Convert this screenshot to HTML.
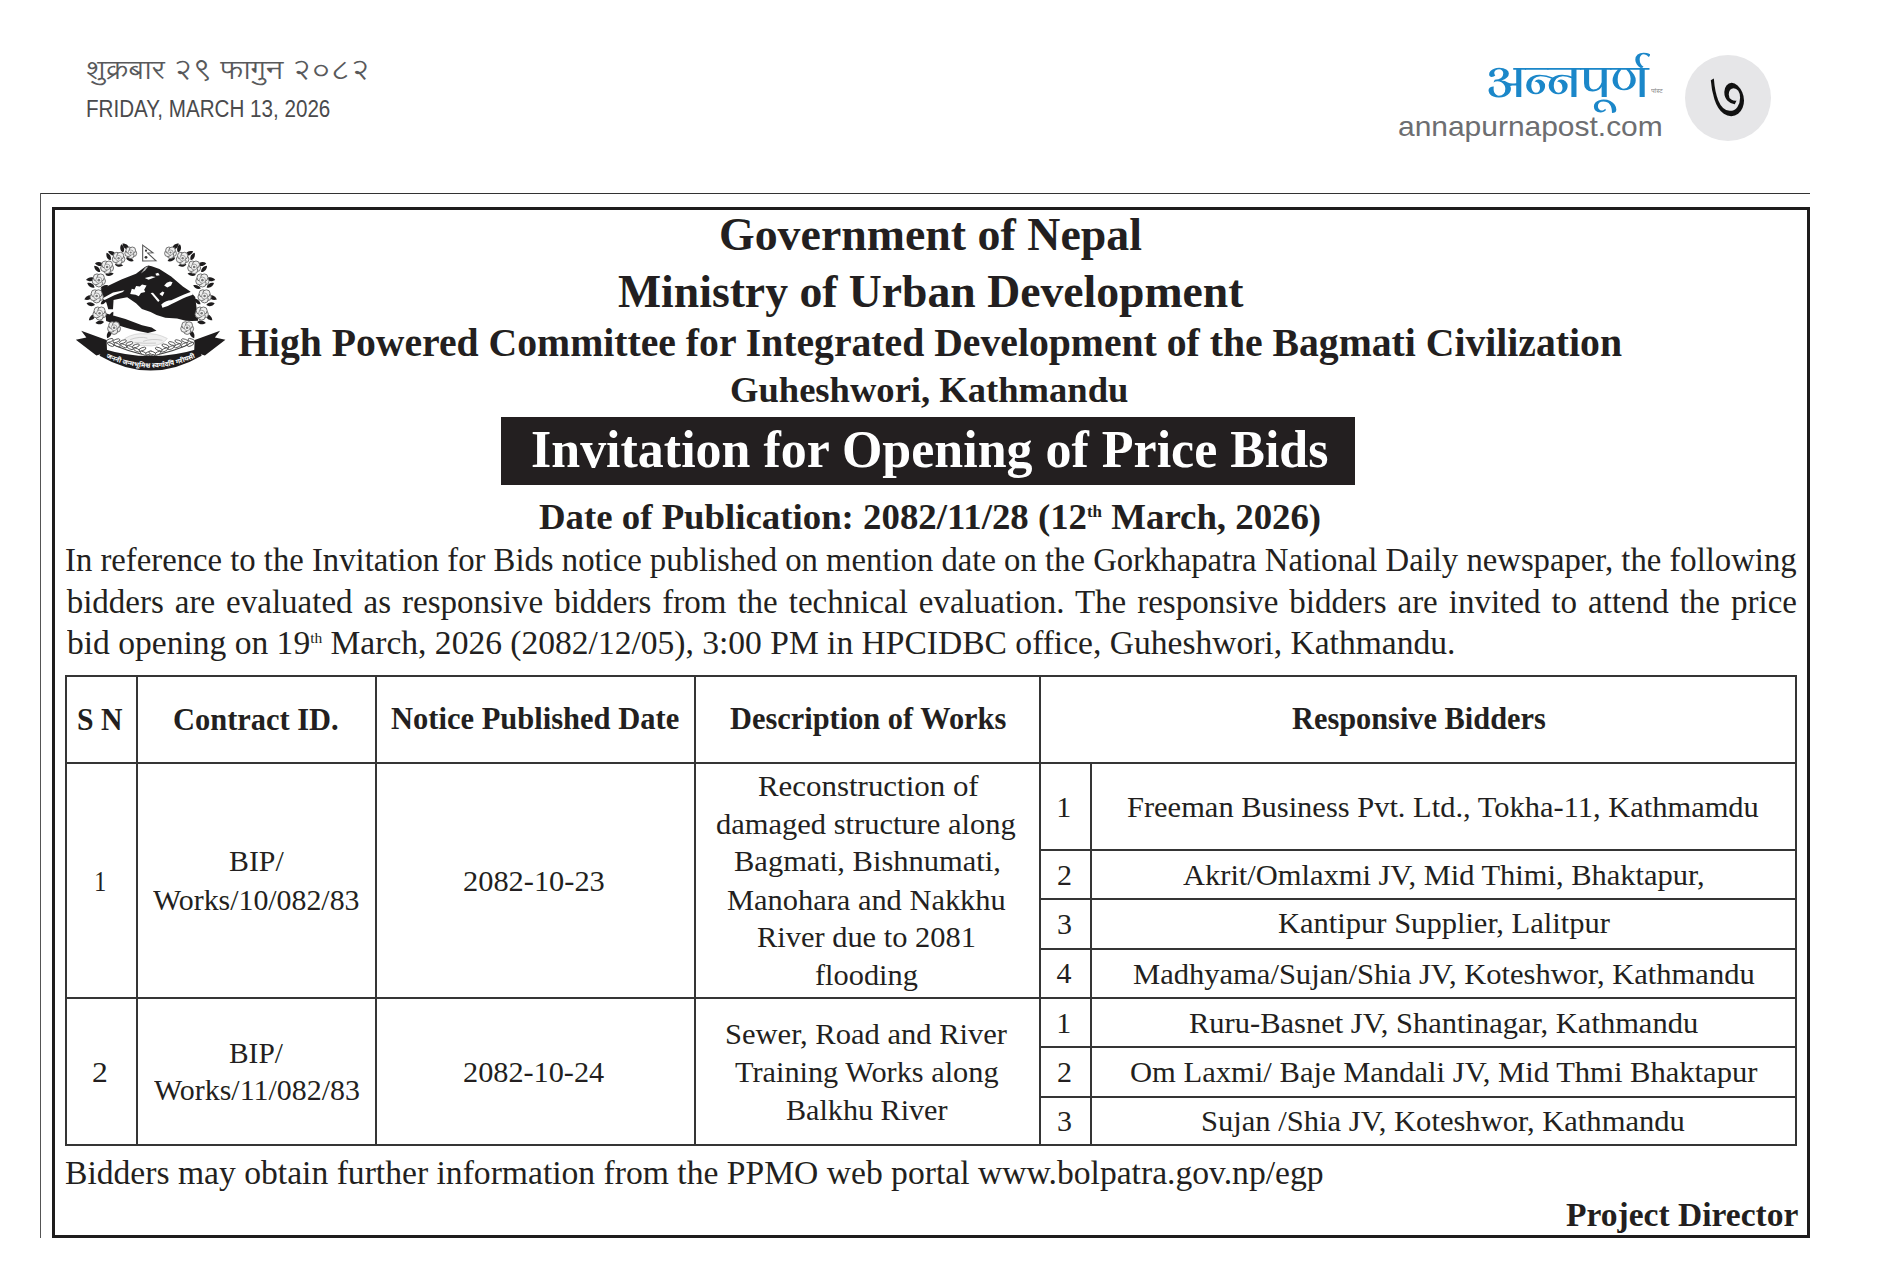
<!DOCTYPE html>
<html><head><meta charset="utf-8"><title>Invitation for Opening of Price Bids</title>
<style>
html,body{margin:0;padding:0;background:#fff}
body{width:1877px;height:1284px;position:relative;overflow:hidden}
.ln{position:absolute;box-sizing:border-box}
.t{position:absolute;white-space:nowrap;transform-origin:0 0}
sup{font-size:0.46em;vertical-align:0;position:relative;top:-0.7em;line-height:0}
</style></head><body>
<div class="ln" style="left:40px;top:193px;width:1770px;height:1px;background:#333"></div>
<div class="ln" style="left:40px;top:193px;width:1px;height:1045px;background:#555"></div>
<div class="ln" style="left:52px;top:207px;width:1758px;height:1031px;border:3px solid #1e1c1d;background:transparent"></div>
<div class="ln" style="left:501px;top:417px;width:854px;height:68px;background:#231f20"></div>
<div class="ln" style="left:1685px;top:55px;width:86px;height:86px;border-radius:50%;background:#e6e6e8"></div>
<div class="ln" style="left:65px;top:675px;width:1732px;height:2px;background:#353535"></div>
<div class="ln" style="left:65px;top:762px;width:1732px;height:2px;background:#353535"></div>
<div class="ln" style="left:65px;top:997px;width:1732px;height:2px;background:#353535"></div>
<div class="ln" style="left:65px;top:1144px;width:1732px;height:2px;background:#353535"></div>
<div class="ln" style="left:1039px;top:849px;width:758px;height:2px;background:#353535"></div>
<div class="ln" style="left:1039px;top:898px;width:758px;height:2px;background:#353535"></div>
<div class="ln" style="left:1039px;top:948px;width:758px;height:2px;background:#353535"></div>
<div class="ln" style="left:1039px;top:1046px;width:758px;height:2px;background:#353535"></div>
<div class="ln" style="left:1039px;top:1096px;width:758px;height:2px;background:#353535"></div>
<div class="ln" style="left:65px;top:675px;width:2px;height:471px;background:#353535"></div>
<div class="ln" style="left:136px;top:675px;width:2px;height:471px;background:#353535"></div>
<div class="ln" style="left:375px;top:675px;width:2px;height:471px;background:#353535"></div>
<div class="ln" style="left:694px;top:675px;width:2px;height:471px;background:#353535"></div>
<div class="ln" style="left:1039px;top:675px;width:2px;height:471px;background:#353535"></div>
<div class="ln" style="left:1795px;top:675px;width:2px;height:471px;background:#353535"></div>
<div class="ln" style="left:1090px;top:762px;width:2px;height:384px;background:#353535"></div>
<svg style="position:absolute;left:70px;top:238px;width:162px;height:138px" viewBox="0 0 1507 1284"><path transform="translate(552,106) rotate(-139)" d="M0,0 C26,-28 64,-21 85,0 C64,21 26,28 0,0 Z" fill="#1e1c1d"/><path transform="translate(493,136) rotate(-101)" d="M0,0 C24,-27 60,-20 80,0 C60,20 24,27 0,0 Z" fill="#1e1c1d"/><path transform="translate(521,183) rotate(24)" d="M0,0 C23,-24 58,-18 78,0 C58,18 23,24 0,0 Z" fill="#1e1c1d"/><path transform="translate(431,161) rotate(-154)" d="M0,0 C26,-28 64,-21 85,0 C64,21 26,28 0,0 Z" fill="#1e1c1d"/><path transform="translate(377,208) rotate(-117)" d="M0,0 C24,-27 60,-20 80,0 C60,20 24,27 0,0 Z" fill="#1e1c1d"/><path transform="translate(417,246) rotate(8)" d="M0,0 C23,-24 58,-18 78,0 C58,18 23,24 0,0 Z" fill="#1e1c1d"/><path transform="translate(316,250) rotate(-169)" d="M0,0 C26,-28 64,-21 85,0 C64,21 26,28 0,0 Z" fill="#1e1c1d"/><path transform="translate(280,317) rotate(-133)" d="M0,0 C24,-27 60,-20 80,0 C60,20 24,27 0,0 Z" fill="#1e1c1d"/><path transform="translate(329,342) rotate(-8)" d="M0,0 C23,-24 58,-18 78,0 C58,18 23,24 0,0 Z" fill="#1e1c1d"/><path transform="translate(234,380) rotate(-186)" d="M0,0 C26,-28 64,-21 85,0 C64,21 26,28 0,0 Z" fill="#1e1c1d"/><path transform="translate(229,460) rotate(-149)" d="M0,0 C24,-27 60,-20 80,0 C60,20 24,27 0,0 Z" fill="#1e1c1d"/><path transform="translate(283,471) rotate(-24)" d="M0,0 C23,-24 58,-18 78,0 C58,18 23,24 0,0 Z" fill="#1e1c1d"/><path transform="translate(212,539) rotate(-203)" d="M0,0 C26,-28 64,-21 85,0 C64,21 26,28 0,0 Z" fill="#1e1c1d"/><path transform="translate(232,624) rotate(193)" d="M0,0 C24,-27 60,-20 80,0 C60,20 24,27 0,0 Z" fill="#1e1c1d"/><path transform="translate(286,617) rotate(318)" d="M0,0 C23,-24 58,-18 78,0 C58,18 23,24 0,0 Z" fill="#1e1c1d"/><path transform="translate(240,710) rotate(139)" d="M0,0 C26,-28 64,-21 85,0 C64,21 26,28 0,0 Z" fill="#1e1c1d"/><path transform="translate(316,781) rotate(173)" d="M0,0 C24,-27 60,-20 80,0 C60,20 24,27 0,0 Z" fill="#1e1c1d"/><path transform="translate(365,756) rotate(298)" d="M0,0 C23,-24 58,-18 78,0 C58,18 23,24 0,0 Z" fill="#1e1c1d"/><path transform="translate(383,857) rotate(116)" d="M0,0 C26,-28 64,-21 85,0 C64,21 26,28 0,0 Z" fill="#1e1c1d"/><path transform="translate(948,106) rotate(-41)" d="M0,0 C26,-28 64,-21 85,0 C64,21 26,28 0,0 Z" fill="#1e1c1d"/><path transform="translate(1007,136) rotate(-79)" d="M0,0 C24,-27 60,-20 80,0 C60,20 24,27 0,0 Z" fill="#1e1c1d"/><path transform="translate(979,183) rotate(156)" d="M0,0 C23,-24 58,-18 78,0 C58,18 23,24 0,0 Z" fill="#1e1c1d"/><path transform="translate(1069,161) rotate(-26)" d="M0,0 C26,-28 64,-21 85,0 C64,21 26,28 0,0 Z" fill="#1e1c1d"/><path transform="translate(1123,208) rotate(-63)" d="M0,0 C24,-27 60,-20 80,0 C60,20 24,27 0,0 Z" fill="#1e1c1d"/><path transform="translate(1083,246) rotate(172)" d="M0,0 C23,-24 58,-18 78,0 C58,18 23,24 0,0 Z" fill="#1e1c1d"/><path transform="translate(1184,250) rotate(-11)" d="M0,0 C26,-28 64,-21 85,0 C64,21 26,28 0,0 Z" fill="#1e1c1d"/><path transform="translate(1220,317) rotate(-47)" d="M0,0 C24,-27 60,-20 80,0 C60,20 24,27 0,0 Z" fill="#1e1c1d"/><path transform="translate(1171,342) rotate(188)" d="M0,0 C23,-24 58,-18 78,0 C58,18 23,24 0,0 Z" fill="#1e1c1d"/><path transform="translate(1266,380) rotate(6)" d="M0,0 C26,-28 64,-21 85,0 C64,21 26,28 0,0 Z" fill="#1e1c1d"/><path transform="translate(1271,460) rotate(-31)" d="M0,0 C24,-27 60,-20 80,0 C60,20 24,27 0,0 Z" fill="#1e1c1d"/><path transform="translate(1217,471) rotate(204)" d="M0,0 C23,-24 58,-18 78,0 C58,18 23,24 0,0 Z" fill="#1e1c1d"/><path transform="translate(1288,539) rotate(23)" d="M0,0 C26,-28 64,-21 85,0 C64,21 26,28 0,0 Z" fill="#1e1c1d"/><path transform="translate(1268,624) rotate(-13)" d="M0,0 C24,-27 60,-20 80,0 C60,20 24,27 0,0 Z" fill="#1e1c1d"/><path transform="translate(1214,617) rotate(222)" d="M0,0 C23,-24 58,-18 78,0 C58,18 23,24 0,0 Z" fill="#1e1c1d"/><path transform="translate(1260,710) rotate(41)" d="M0,0 C26,-28 64,-21 85,0 C64,21 26,28 0,0 Z" fill="#1e1c1d"/><path transform="translate(1184,781) rotate(7)" d="M0,0 C24,-27 60,-20 80,0 C60,20 24,27 0,0 Z" fill="#1e1c1d"/><path transform="translate(1135,756) rotate(242)" d="M0,0 C23,-24 58,-18 78,0 C58,18 23,24 0,0 Z" fill="#1e1c1d"/><path transform="translate(1117,857) rotate(64)" d="M0,0 C26,-28 64,-21 85,0 C64,21 26,28 0,0 Z" fill="#1e1c1d"/><path d="M287,479 L341,452 L478,387 L614,332 L700,268 L729,255 L760,262 L832,289 L941,359 L1050,452 L1116,496 L1165,550 L1192,770 L1132,772 L1077,770 L996,748 L887,743 L805,716 L750,688 L669,661 L614,607 L532,552 L470,562 L405,578 L400,662 L356,662 L338,600 L287,552 Z" fill="#1e1c1d"/><path d="M849,618 Q900,577 941,579 Q1000,552 1050,530 Q1100,507 1134,497 L1142,527 Q1080,547 1050,562 Q990,592 945,614 Q900,642 860,650 Z" fill="#fff"/><path d="M560,522 L575,472 L600,480 L615,447 L650,452 L670,432 L712,442 L690,482 L700,502 L660,512 L640,541 L610,527 Z" fill="#fff"/><path d="M876,442 L900,417 L930,405 L954,412 L940,442 L905,460 Z" fill="#fff"/><path d="M832,522 L860,498 L878,507 L860,541 Z" fill="#fff"/><path d="M750,512 L772,509 L834,582 L820,596 Z" fill="#fff"/><path d="M696,372 L760,356 L796,362 L730,389 Z" fill="#fff"/><path d="M794,332 L820,323 L834,347 L805,351 Z" fill="#fff"/><path d="M300,562 L400,507 L507,487 L492,502 L412,532 L322,577 Z" fill="#fff"/><path d="M700,275 L729,262 L700,300 L660,330 Z" fill="#bbb"/><path d="M330,700 Q500,742 670,812 L760,832 L805,862 L725,884 Q560,852 430,804 L336,772 Z" fill="#1e1c1d"/><path d="M510,935 Q600,880 700,892 Q800,880 905,935 Q860,995 760,1004 Q640,1008 530,978 Z" fill="#f0f0f0" stroke="#bdbdbd" stroke-width="5"/><path d="M560,945 Q650,912 720,932 M680,962 Q760,932 860,952 M600,972 Q700,984 800,978" fill="none" stroke="#aaa" stroke-width="5"/><g transform="translate(565,135)"><circle cx="25" cy="8" r="30" fill="#eeeeee" stroke="#5e5e5e" stroke-width="8"/><circle cx="0" cy="26" r="30" fill="#eeeeee" stroke="#5e5e5e" stroke-width="8"/><circle cx="-25" cy="8" r="30" fill="#eeeeee" stroke="#5e5e5e" stroke-width="8"/><circle cx="-15" cy="-21" r="30" fill="#eeeeee" stroke="#5e5e5e" stroke-width="8"/><circle cx="15" cy="-21" r="30" fill="#eeeeee" stroke="#5e5e5e" stroke-width="8"/><circle r="24" fill="#f3f3f3" stroke="#7a7a7a" stroke-width="6"/><circle r="10" fill="#777"/></g><g transform="translate(452,188)"><circle cx="27" cy="9" r="32" fill="#eeeeee" stroke="#5e5e5e" stroke-width="8"/><circle cx="0" cy="28" r="32" fill="#eeeeee" stroke="#5e5e5e" stroke-width="8"/><circle cx="-27" cy="9" r="32" fill="#eeeeee" stroke="#5e5e5e" stroke-width="8"/><circle cx="-16" cy="-23" r="32" fill="#eeeeee" stroke="#5e5e5e" stroke-width="8"/><circle cx="16" cy="-23" r="32" fill="#eeeeee" stroke="#5e5e5e" stroke-width="8"/><circle r="26" fill="#f3f3f3" stroke="#7a7a7a" stroke-width="6"/><circle r="11" fill="#777"/></g><g transform="translate(345,270)"><circle cx="27" cy="9" r="33" fill="#eeeeee" stroke="#5e5e5e" stroke-width="8"/><circle cx="0" cy="29" r="33" fill="#eeeeee" stroke="#5e5e5e" stroke-width="8"/><circle cx="-27" cy="9" r="33" fill="#eeeeee" stroke="#5e5e5e" stroke-width="8"/><circle cx="-17" cy="-23" r="33" fill="#eeeeee" stroke="#5e5e5e" stroke-width="8"/><circle cx="17" cy="-23" r="33" fill="#eeeeee" stroke="#5e5e5e" stroke-width="8"/><circle r="27" fill="#f3f3f3" stroke="#7a7a7a" stroke-width="6"/><circle r="12" fill="#777"/></g><g transform="translate(268,392)"><circle cx="28" cy="9" r="34" fill="#eeeeee" stroke="#5e5e5e" stroke-width="8"/><circle cx="0" cy="30" r="34" fill="#eeeeee" stroke="#5e5e5e" stroke-width="8"/><circle cx="-28" cy="9" r="34" fill="#eeeeee" stroke="#5e5e5e" stroke-width="8"/><circle cx="-17" cy="-24" r="34" fill="#eeeeee" stroke="#5e5e5e" stroke-width="8"/><circle cx="17" cy="-24" r="34" fill="#eeeeee" stroke="#5e5e5e" stroke-width="8"/><circle r="28" fill="#f3f3f3" stroke="#7a7a7a" stroke-width="6"/><circle r="12" fill="#777"/></g><g transform="translate(248,540)"><circle cx="28" cy="9" r="34" fill="#eeeeee" stroke="#5e5e5e" stroke-width="8"/><circle cx="0" cy="30" r="34" fill="#eeeeee" stroke="#5e5e5e" stroke-width="8"/><circle cx="-28" cy="9" r="34" fill="#eeeeee" stroke="#5e5e5e" stroke-width="8"/><circle cx="-17" cy="-24" r="34" fill="#eeeeee" stroke="#5e5e5e" stroke-width="8"/><circle cx="17" cy="-24" r="34" fill="#eeeeee" stroke="#5e5e5e" stroke-width="8"/><circle r="28" fill="#f3f3f3" stroke="#7a7a7a" stroke-width="6"/><circle r="12" fill="#777"/></g><g transform="translate(275,700)"><circle cx="28" cy="9" r="34" fill="#eeeeee" stroke="#5e5e5e" stroke-width="8"/><circle cx="0" cy="30" r="34" fill="#eeeeee" stroke="#5e5e5e" stroke-width="8"/><circle cx="-28" cy="9" r="34" fill="#eeeeee" stroke="#5e5e5e" stroke-width="8"/><circle cx="-17" cy="-24" r="34" fill="#eeeeee" stroke="#5e5e5e" stroke-width="8"/><circle cx="17" cy="-24" r="34" fill="#eeeeee" stroke="#5e5e5e" stroke-width="8"/><circle r="28" fill="#f3f3f3" stroke="#7a7a7a" stroke-width="6"/><circle r="12" fill="#777"/></g><g transform="translate(410,835)"><circle cx="27" cy="9" r="33" fill="#eeeeee" stroke="#5e5e5e" stroke-width="8"/><circle cx="0" cy="29" r="33" fill="#eeeeee" stroke="#5e5e5e" stroke-width="8"/><circle cx="-27" cy="9" r="33" fill="#eeeeee" stroke="#5e5e5e" stroke-width="8"/><circle cx="-17" cy="-23" r="33" fill="#eeeeee" stroke="#5e5e5e" stroke-width="8"/><circle cx="17" cy="-23" r="33" fill="#eeeeee" stroke="#5e5e5e" stroke-width="8"/><circle r="27" fill="#f3f3f3" stroke="#7a7a7a" stroke-width="6"/><circle r="12" fill="#777"/></g><g transform="translate(935,135)"><circle cx="25" cy="8" r="30" fill="#eeeeee" stroke="#5e5e5e" stroke-width="8"/><circle cx="0" cy="26" r="30" fill="#eeeeee" stroke="#5e5e5e" stroke-width="8"/><circle cx="-25" cy="8" r="30" fill="#eeeeee" stroke="#5e5e5e" stroke-width="8"/><circle cx="-15" cy="-21" r="30" fill="#eeeeee" stroke="#5e5e5e" stroke-width="8"/><circle cx="15" cy="-21" r="30" fill="#eeeeee" stroke="#5e5e5e" stroke-width="8"/><circle r="24" fill="#f3f3f3" stroke="#7a7a7a" stroke-width="6"/><circle r="10" fill="#777"/></g><g transform="translate(1048,188)"><circle cx="27" cy="9" r="32" fill="#eeeeee" stroke="#5e5e5e" stroke-width="8"/><circle cx="0" cy="28" r="32" fill="#eeeeee" stroke="#5e5e5e" stroke-width="8"/><circle cx="-27" cy="9" r="32" fill="#eeeeee" stroke="#5e5e5e" stroke-width="8"/><circle cx="-16" cy="-23" r="32" fill="#eeeeee" stroke="#5e5e5e" stroke-width="8"/><circle cx="16" cy="-23" r="32" fill="#eeeeee" stroke="#5e5e5e" stroke-width="8"/><circle r="26" fill="#f3f3f3" stroke="#7a7a7a" stroke-width="6"/><circle r="11" fill="#777"/></g><g transform="translate(1155,270)"><circle cx="27" cy="9" r="33" fill="#eeeeee" stroke="#5e5e5e" stroke-width="8"/><circle cx="0" cy="29" r="33" fill="#eeeeee" stroke="#5e5e5e" stroke-width="8"/><circle cx="-27" cy="9" r="33" fill="#eeeeee" stroke="#5e5e5e" stroke-width="8"/><circle cx="-17" cy="-23" r="33" fill="#eeeeee" stroke="#5e5e5e" stroke-width="8"/><circle cx="17" cy="-23" r="33" fill="#eeeeee" stroke="#5e5e5e" stroke-width="8"/><circle r="27" fill="#f3f3f3" stroke="#7a7a7a" stroke-width="6"/><circle r="12" fill="#777"/></g><g transform="translate(1232,392)"><circle cx="28" cy="9" r="34" fill="#eeeeee" stroke="#5e5e5e" stroke-width="8"/><circle cx="0" cy="30" r="34" fill="#eeeeee" stroke="#5e5e5e" stroke-width="8"/><circle cx="-28" cy="9" r="34" fill="#eeeeee" stroke="#5e5e5e" stroke-width="8"/><circle cx="-17" cy="-24" r="34" fill="#eeeeee" stroke="#5e5e5e" stroke-width="8"/><circle cx="17" cy="-24" r="34" fill="#eeeeee" stroke="#5e5e5e" stroke-width="8"/><circle r="28" fill="#f3f3f3" stroke="#7a7a7a" stroke-width="6"/><circle r="12" fill="#777"/></g><g transform="translate(1252,540)"><circle cx="28" cy="9" r="34" fill="#eeeeee" stroke="#5e5e5e" stroke-width="8"/><circle cx="0" cy="30" r="34" fill="#eeeeee" stroke="#5e5e5e" stroke-width="8"/><circle cx="-28" cy="9" r="34" fill="#eeeeee" stroke="#5e5e5e" stroke-width="8"/><circle cx="-17" cy="-24" r="34" fill="#eeeeee" stroke="#5e5e5e" stroke-width="8"/><circle cx="17" cy="-24" r="34" fill="#eeeeee" stroke="#5e5e5e" stroke-width="8"/><circle r="28" fill="#f3f3f3" stroke="#7a7a7a" stroke-width="6"/><circle r="12" fill="#777"/></g><g transform="translate(1225,700)"><circle cx="28" cy="9" r="34" fill="#eeeeee" stroke="#5e5e5e" stroke-width="8"/><circle cx="0" cy="30" r="34" fill="#eeeeee" stroke="#5e5e5e" stroke-width="8"/><circle cx="-28" cy="9" r="34" fill="#eeeeee" stroke="#5e5e5e" stroke-width="8"/><circle cx="-17" cy="-24" r="34" fill="#eeeeee" stroke="#5e5e5e" stroke-width="8"/><circle cx="17" cy="-24" r="34" fill="#eeeeee" stroke="#5e5e5e" stroke-width="8"/><circle r="28" fill="#f3f3f3" stroke="#7a7a7a" stroke-width="6"/><circle r="12" fill="#777"/></g><g transform="translate(1090,835)"><circle cx="27" cy="9" r="33" fill="#eeeeee" stroke="#5e5e5e" stroke-width="8"/><circle cx="0" cy="29" r="33" fill="#eeeeee" stroke="#5e5e5e" stroke-width="8"/><circle cx="-27" cy="9" r="33" fill="#eeeeee" stroke="#5e5e5e" stroke-width="8"/><circle cx="-17" cy="-23" r="33" fill="#eeeeee" stroke="#5e5e5e" stroke-width="8"/><circle cx="17" cy="-23" r="33" fill="#eeeeee" stroke="#5e5e5e" stroke-width="8"/><circle r="27" fill="#f3f3f3" stroke="#7a7a7a" stroke-width="6"/><circle r="12" fill="#777"/></g><path d="M360,975 Q540,1060 725,1092 M1140,975 Q960,1060 775,1092" fill="none" stroke="#444" stroke-width="10"/><ellipse cx="370" cy="953" rx="34" ry="14" transform="rotate(-20 370 953)" fill="#fff" stroke="#3a3a3a" stroke-width="7"/><ellipse cx="378" cy="991" rx="32" ry="13" transform="rotate(25 378 991)" fill="#fff" stroke="#3a3a3a" stroke-width="7"/><ellipse cx="1130" cy="953" rx="34" ry="14" transform="rotate(20 1130 953)" fill="#fff" stroke="#3a3a3a" stroke-width="7"/><ellipse cx="1122" cy="991" rx="32" ry="13" transform="rotate(-25 1122 991)" fill="#fff" stroke="#3a3a3a" stroke-width="7"/><ellipse cx="431" cy="956" rx="34" ry="14" transform="rotate(-20 431 956)" fill="#fff" stroke="#3a3a3a" stroke-width="7"/><ellipse cx="439" cy="994" rx="32" ry="13" transform="rotate(25 439 994)" fill="#fff" stroke="#3a3a3a" stroke-width="7"/><ellipse cx="1069" cy="956" rx="34" ry="14" transform="rotate(20 1069 956)" fill="#fff" stroke="#3a3a3a" stroke-width="7"/><ellipse cx="1061" cy="994" rx="32" ry="13" transform="rotate(-25 1061 994)" fill="#fff" stroke="#3a3a3a" stroke-width="7"/><ellipse cx="492" cy="965" rx="34" ry="14" transform="rotate(-20 492 965)" fill="#fff" stroke="#3a3a3a" stroke-width="7"/><ellipse cx="500" cy="1003" rx="32" ry="13" transform="rotate(25 500 1003)" fill="#fff" stroke="#3a3a3a" stroke-width="7"/><ellipse cx="1008" cy="965" rx="34" ry="14" transform="rotate(20 1008 965)" fill="#fff" stroke="#3a3a3a" stroke-width="7"/><ellipse cx="1000" cy="1003" rx="32" ry="13" transform="rotate(-25 1000 1003)" fill="#fff" stroke="#3a3a3a" stroke-width="7"/><ellipse cx="552" cy="982" rx="34" ry="14" transform="rotate(-20 552 982)" fill="#fff" stroke="#3a3a3a" stroke-width="7"/><ellipse cx="560" cy="1020" rx="32" ry="13" transform="rotate(25 560 1020)" fill="#fff" stroke="#3a3a3a" stroke-width="7"/><ellipse cx="948" cy="982" rx="34" ry="14" transform="rotate(20 948 982)" fill="#fff" stroke="#3a3a3a" stroke-width="7"/><ellipse cx="940" cy="1020" rx="32" ry="13" transform="rotate(-25 940 1020)" fill="#fff" stroke="#3a3a3a" stroke-width="7"/><ellipse cx="613" cy="1004" rx="34" ry="14" transform="rotate(-20 613 1004)" fill="#fff" stroke="#3a3a3a" stroke-width="7"/><ellipse cx="621" cy="1042" rx="32" ry="13" transform="rotate(25 621 1042)" fill="#fff" stroke="#3a3a3a" stroke-width="7"/><ellipse cx="887" cy="1004" rx="34" ry="14" transform="rotate(20 887 1004)" fill="#fff" stroke="#3a3a3a" stroke-width="7"/><ellipse cx="879" cy="1042" rx="32" ry="13" transform="rotate(-25 879 1042)" fill="#fff" stroke="#3a3a3a" stroke-width="7"/><ellipse cx="674" cy="1034" rx="34" ry="14" transform="rotate(-20 674 1034)" fill="#fff" stroke="#3a3a3a" stroke-width="7"/><ellipse cx="682" cy="1072" rx="32" ry="13" transform="rotate(25 682 1072)" fill="#fff" stroke="#3a3a3a" stroke-width="7"/><ellipse cx="826" cy="1034" rx="34" ry="14" transform="rotate(20 826 1034)" fill="#fff" stroke="#3a3a3a" stroke-width="7"/><ellipse cx="818" cy="1072" rx="32" ry="13" transform="rotate(-25 818 1072)" fill="#fff" stroke="#3a3a3a" stroke-width="7"/><ellipse cx="735" cy="1070" rx="34" ry="14" transform="rotate(-20 735 1070)" fill="#fff" stroke="#3a3a3a" stroke-width="7"/><ellipse cx="743" cy="1108" rx="32" ry="13" transform="rotate(25 743 1108)" fill="#fff" stroke="#3a3a3a" stroke-width="7"/><ellipse cx="765" cy="1070" rx="34" ry="14" transform="rotate(20 765 1070)" fill="#fff" stroke="#3a3a3a" stroke-width="7"/><ellipse cx="757" cy="1108" rx="32" ry="13" transform="rotate(-25 757 1108)" fill="#fff" stroke="#3a3a3a" stroke-width="7"/><path d="M104,862 L340,950 L345,1062 L245,1094 L54,946 L152,926 Z" fill="#1e1c1d"/><path d="M1396,862 L1160,950 L1155,1062 L1255,1094 L1446,946 L1348,926 Z" fill="#1e1c1d"/><path d="M305,1030 Q750,1168 1195,1030 L1225,1095 Q750,1372 275,1095 Z" fill="#1e1c1d"/><path id="rbp" d="M300,1095 Q750,1318 1200,1095" fill="none"/><text font-family="'Liberation Sans', 'Noto Sans Devanagari', sans-serif" font-size="62" font-weight="700" fill="#fff"><textPath href="#rbp" startOffset="50%" text-anchor="middle">जननी जन्मभूमिश्च स्वर्गादपि गरीयसी</textPath></text><path d="M676,66 L772,138 L722,140 L800,212 L676,214 Z" fill="#fff" stroke="#555" stroke-width="10" stroke-linejoin="miter"/><circle cx="707" cy="118" r="10" fill="#333"/><circle cx="707" cy="180" r="13" fill="#333"/></svg>
<div class="t" style="left:86.04px;top:57.42px;font-family:'Liberation Sans', 'Lohit Devanagari', 'Noto Sans Devanagari', sans-serif;font-weight:400;font-size:26px;line-height:26px;color:#58595b;transform:scale(1.1558,0.9920);">शुक्रबार २९ फागुन २०८२</div>
<div class="t" style="left:86.01px;top:97.10px;font-family:'Liberation Sans', Arial, sans-serif;font-weight:400;font-size:24.4px;line-height:24.4px;color:#4a4a4c;transform:scaleX(0.8448);">FRIDAY, MARCH 13, 2026</div>
<div class="t" style="left:1485.63px;top:56.90px;font-family:'Liberation Serif', 'Arya', 'Noto Serif Devanagari', serif;font-weight:400;font-size:48px;line-height:48px;color:#1b87c9;transform:scale(1.0372,1.0000);">अन्‍नपूर्ण</div>
<div class="t" style="left:1650.50px;top:88.00px;font-family:'Liberation Sans', 'Noto Sans Devanagari', 'Lohit Devanagari', sans-serif;font-weight:400;font-size:7px;line-height:7px;color:#8a8a8a;transform:scale(0.9583,0.8333);">पोस्ट</div>
<div class="t" style="left:1397.91px;top:112.80px;font-family:'Liberation Sans', Arial, sans-serif;font-weight:400;font-size:27.4px;line-height:27.4px;color:#6d6e71;transform:scaleX(1.0933);">annapurnapost.com</div>
<div class="t" style="left:1709.34px;top:68.19px;font-family:'Liberation Serif', 'Halant', 'Laila', 'Noto Serif Devanagari', serif;font-weight:600;font-size:56px;line-height:56px;color:#111;transform:scale(0.8325,1.0108);">७</div>
<div class="t" style="left:719.11px;top:212.00px;font-family:'Liberation Serif', 'Times New Roman', serif;font-weight:700;font-size:46px;line-height:46px;color:#231f20;transform:scaleX(0.9971);">Government of Nepal</div>
<div class="t" style="left:617.60px;top:268.70px;font-family:'Liberation Serif', 'Times New Roman', serif;font-weight:700;font-size:45.7px;line-height:45.7px;color:#231f20;transform:scaleX(0.9997);">Ministry of Urban Development</div>
<div class="t" style="left:238.30px;top:324.20px;font-family:'Liberation Serif', 'Times New Roman', serif;font-weight:700;font-size:39.5px;line-height:39.5px;color:#231f20;transform:scaleX(1.0047);">High Powered Committee for Integrated Development of the Bagmati Civilization</div>
<div class="t" style="left:730.30px;top:371.60px;font-family:'Liberation Serif', 'Times New Roman', serif;font-weight:700;font-size:36.5px;line-height:36.5px;color:#231f20;transform:scaleX(1.0020);">Guheshwori, Kathmandu</div>
<div class="t" style="left:530.74px;top:422.70px;font-family:'Liberation Serif', 'Times New Roman', serif;font-weight:700;font-size:53px;line-height:53px;color:#ffffff;transform:scaleX(0.9807);">Invitation for Opening of Price Bids</div>
<div class="t" style="left:539.49px;top:498.90px;font-family:'Liberation Serif', 'Times New Roman', serif;font-weight:700;font-size:36.5px;line-height:36.5px;color:#231f20;transform:scaleX(1.0084);">Date of Publication: 2082/11/28 (12<sup>th</sup> March, 2026)</div>
<div class="t" style="left:64.71px;top:543.70px;font-family:'Liberation Serif', 'Times New Roman', serif;font-weight:400;font-size:33px;line-height:33px;color:#231f20;transform:scaleX(0.9911);">In reference to the Invitation for Bids notice published on mention date on the Gorkhapatra National Daily newspaper, the following</div>
<div class="t" style="left:66.70px;top:585.50px;font-family:'Liberation Serif', 'Times New Roman', serif;font-weight:400;font-size:33px;line-height:33px;color:#231f20;word-spacing:2.744px;">bidders are evaluated as responsive bidders from the technical evaluation. The responsive bidders are invited to attend the price</div>
<div class="t" style="left:66.70px;top:627.10px;font-family:'Liberation Serif', 'Times New Roman', serif;font-weight:400;font-size:33px;line-height:33px;color:#231f20;transform:scaleX(1.0164);">bid opening on 19<sup>th</sup> March, 2026 (2082/12/05), 3:00 PM in HPCIDBC office, Guheshwori, Kathmandu.</div>
<div class="t" style="left:76.74px;top:702.60px;font-family:'Liberation Serif', 'Times New Roman', serif;font-weight:700;font-size:32px;line-height:32px;color:#231f20;transform:scaleX(0.9298);">S N</div>
<div class="t" style="left:173.15px;top:702.50px;font-family:'Liberation Serif', 'Times New Roman', serif;font-weight:700;font-size:32px;line-height:32px;color:#231f20;transform:scaleX(0.9512);">Contract ID.</div>
<div class="t" style="left:390.65px;top:702.10px;font-family:'Liberation Serif', 'Times New Roman', serif;font-weight:700;font-size:32px;line-height:32px;color:#231f20;transform:scaleX(0.9538);">Notice Published Date</div>
<div class="t" style="left:729.90px;top:702.00px;font-family:'Liberation Serif', 'Times New Roman', serif;font-weight:700;font-size:32px;line-height:32px;color:#231f20;transform:scaleX(0.9497);">Description of Works</div>
<div class="t" style="left:1291.60px;top:702.30px;font-family:'Liberation Serif', 'Times New Roman', serif;font-weight:700;font-size:32px;line-height:32px;color:#231f20;transform:scaleX(0.9483);">Responsive Bidders</div>
<div class="t" style="left:94.04px;top:866.40px;font-family:'Liberation Serif', 'Times New Roman', serif;font-weight:400;font-size:30px;line-height:30px;color:#231f20;transform:scaleX(0.8200);">1</div>
<div class="t" style="left:228.51px;top:846.30px;font-family:'Liberation Serif', 'Times New Roman', serif;font-weight:400;font-size:30px;line-height:30px;color:#231f20;transform:scaleX(0.9944);">BIP/</div>
<div class="t" style="left:153.40px;top:885.10px;font-family:'Liberation Serif', 'Times New Roman', serif;font-weight:400;font-size:30px;line-height:30px;color:#231f20;transform:scaleX(0.9947);">Works/10/082/83</div>
<div class="t" style="left:463.29px;top:865.80px;font-family:'Liberation Serif', 'Times New Roman', serif;font-weight:400;font-size:30px;line-height:30px;color:#231f20;transform:scaleX(1.0130);">2082-10-23</div>
<div class="t" style="left:757.57px;top:771.10px;font-family:'Liberation Serif', 'Times New Roman', serif;font-weight:400;font-size:30px;line-height:30px;color:#231f20;transform:scaleX(1.0305);">Reconstruction of</div>
<div class="t" style="left:716.38px;top:809.20px;font-family:'Liberation Serif', 'Times New Roman', serif;font-weight:400;font-size:30px;line-height:30px;color:#231f20;transform:scaleX(1.0163);">damaged structure along</div>
<div class="t" style="left:733.78px;top:846.10px;font-family:'Liberation Serif', 'Times New Roman', serif;font-weight:400;font-size:30px;line-height:30px;color:#231f20;transform:scaleX(1.0169);">Bagmati, Bishnumati,</div>
<div class="t" style="left:726.79px;top:884.60px;font-family:'Liberation Serif', 'Times New Roman', serif;font-weight:400;font-size:30px;line-height:30px;color:#231f20;transform:scaleX(1.0139);">Manohara and Nakkhu</div>
<div class="t" style="left:756.59px;top:922.40px;font-family:'Liberation Serif', 'Times New Roman', serif;font-weight:400;font-size:30px;line-height:30px;color:#231f20;transform:scaleX(1.0141);">River due to 2081</div>
<div class="t" style="left:815.19px;top:959.60px;font-family:'Liberation Serif', 'Times New Roman', serif;font-weight:400;font-size:30px;line-height:30px;color:#231f20;transform:scaleX(1.0120);">flooding</div>
<div class="t" style="left:1056.30px;top:791.70px;font-family:'Liberation Serif', 'Times New Roman', serif;font-weight:400;font-size:30px;line-height:30px;color:#231f20;">1</div>
<div class="t" style="left:1057.00px;top:859.60px;font-family:'Liberation Serif', 'Times New Roman', serif;font-weight:400;font-size:30px;line-height:30px;color:#231f20;">2</div>
<div class="t" style="left:1057.00px;top:908.70px;font-family:'Liberation Serif', 'Times New Roman', serif;font-weight:400;font-size:30px;line-height:30px;color:#231f20;">3</div>
<div class="t" style="left:1056.50px;top:957.70px;font-family:'Liberation Serif', 'Times New Roman', serif;font-weight:400;font-size:30px;line-height:30px;color:#231f20;">4</div>
<div class="t" style="left:1127.28px;top:791.80px;font-family:'Liberation Serif', 'Times New Roman', serif;font-weight:400;font-size:30px;line-height:30px;color:#231f20;transform:scaleX(1.0158);">Freeman Business Pvt. Ltd., Tokha-11, Kathmamdu</div>
<div class="t" style="left:1183.10px;top:859.50px;font-family:'Liberation Serif', 'Times New Roman', serif;font-weight:400;font-size:30px;line-height:30px;color:#231f20;transform:scaleX(1.0156);">Akrit/Omlaxmi JV, Mid Thimi, Bhaktapur,</div>
<div class="t" style="left:1278.08px;top:908.40px;font-family:'Liberation Serif', 'Times New Roman', serif;font-weight:400;font-size:30px;line-height:30px;color:#231f20;transform:scaleX(1.0175);">Kantipur Supplier, Lalitpur</div>
<div class="t" style="left:1133.28px;top:958.90px;font-family:'Liberation Serif', 'Times New Roman', serif;font-weight:400;font-size:30px;line-height:30px;color:#231f20;transform:scaleX(1.0181);">Madhyama/Sujan/Shia JV, Koteshwor, Kathmandu</div>
<div class="t" style="left:92.15px;top:1056.70px;font-family:'Liberation Serif', 'Times New Roman', serif;font-weight:400;font-size:30px;line-height:30px;color:#231f20;transform:scaleX(1.0538);">2</div>
<div class="t" style="left:228.62px;top:1037.60px;font-family:'Liberation Serif', 'Times New Roman', serif;font-weight:400;font-size:30px;line-height:30px;color:#231f20;transform:scaleX(0.9796);">BIP/</div>
<div class="t" style="left:153.80px;top:1075.10px;font-family:'Liberation Serif', 'Times New Roman', serif;font-weight:400;font-size:30px;line-height:30px;color:#231f20;transform:scaleX(0.9971);">Works/11/082/83</div>
<div class="t" style="left:463.29px;top:1057.00px;font-family:'Liberation Serif', 'Times New Roman', serif;font-weight:400;font-size:30px;line-height:30px;color:#231f20;transform:scaleX(1.0086);">2082-10-24</div>
<div class="t" style="left:725.16px;top:1019.40px;font-family:'Liberation Serif', 'Times New Roman', serif;font-weight:400;font-size:30px;line-height:30px;color:#231f20;transform:scaleX(1.0178);">Sewer, Road and River</div>
<div class="t" style="left:735.30px;top:1057.40px;font-family:'Liberation Serif', 'Times New Roman', serif;font-weight:400;font-size:30px;line-height:30px;color:#231f20;transform:scaleX(1.0100);">Training Works along</div>
<div class="t" style="left:785.60px;top:1094.60px;font-family:'Liberation Serif', 'Times New Roman', serif;font-weight:400;font-size:30px;line-height:30px;color:#231f20;transform:scaleX(1.0044);">Balkhu River</div>
<div class="t" style="left:1056.30px;top:1007.70px;font-family:'Liberation Serif', 'Times New Roman', serif;font-weight:400;font-size:30px;line-height:30px;color:#231f20;">1</div>
<div class="t" style="left:1057.00px;top:1056.80px;font-family:'Liberation Serif', 'Times New Roman', serif;font-weight:400;font-size:30px;line-height:30px;color:#231f20;">2</div>
<div class="t" style="left:1057.00px;top:1105.80px;font-family:'Liberation Serif', 'Times New Roman', serif;font-weight:400;font-size:30px;line-height:30px;color:#231f20;">3</div>
<div class="t" style="left:1188.98px;top:1007.70px;font-family:'Liberation Serif', 'Times New Roman', serif;font-weight:400;font-size:30px;line-height:30px;color:#231f20;transform:scaleX(1.0170);">Ruru-Basnet JV, Shantinagar, Kathmandu</div>
<div class="t" style="left:1129.58px;top:1056.80px;font-family:'Liberation Serif', 'Times New Roman', serif;font-weight:400;font-size:30px;line-height:30px;color:#231f20;transform:scaleX(1.0194);">Om Laxmi/ Baje Mandali JV, Mid Thmi Bhaktapur</div>
<div class="t" style="left:1200.76px;top:1106.40px;font-family:'Liberation Serif', 'Times New Roman', serif;font-weight:400;font-size:30px;line-height:30px;color:#231f20;transform:scaleX(1.0188);">Sujan /Shia JV, Koteshwor, Kathmandu</div>
<div class="t" style="left:64.68px;top:1157.40px;font-family:'Liberation Serif', 'Times New Roman', serif;font-weight:400;font-size:33px;line-height:33px;color:#231f20;transform:scaleX(1.0185);">Bidders may obtain further information from the PPMO web portal www.bolpatra.gov.np/egp</div>
<div class="t" style="left:1566.30px;top:1198.30px;font-family:'Liberation Serif', 'Times New Roman', serif;font-weight:700;font-size:34px;line-height:34px;color:#231f20;transform:scaleX(0.9860);">Project Director</div>
</body></html>
